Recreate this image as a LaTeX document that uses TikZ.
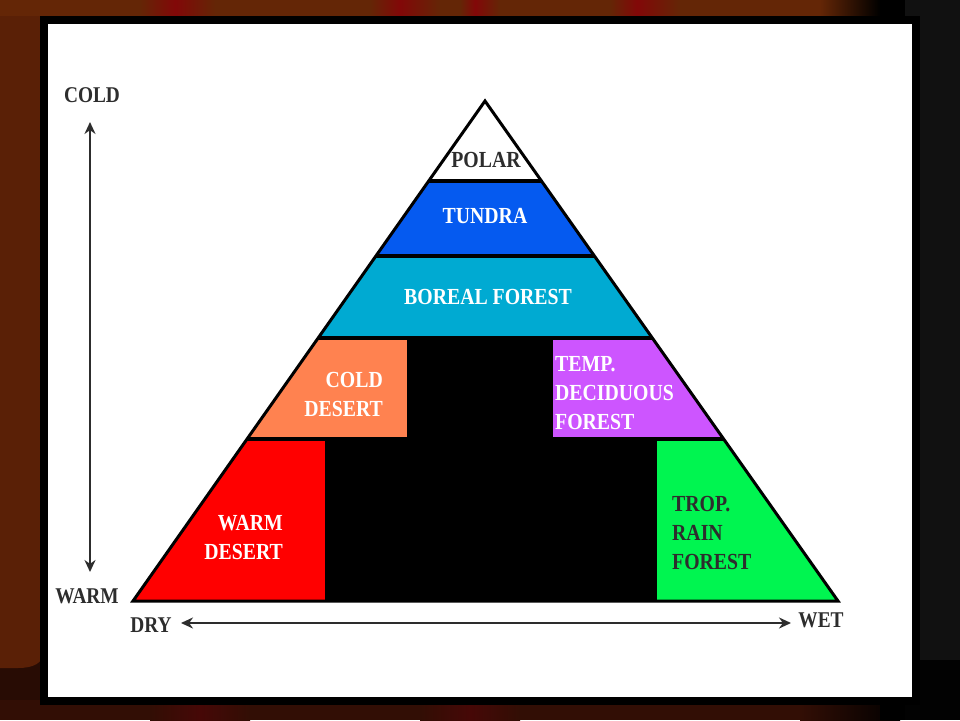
\documentclass[tikz,border=0pt]{standalone}
\usepackage{fontspec}
\setmainfont{Liberation Serif}[FakeStretch=0.86]
\usetikzlibrary{arrows.meta}
\definecolor{tundrablue}{RGB}{5,90,240}
\definecolor{borealcyan}{RGB}{0,170,210}
\definecolor{colddes}{RGB}{255,130,80}
\definecolor{tempdec}{RGB}{205,85,255}
\definecolor{warmdes}{RGB}{255,0,0}
\definecolor{tropgreen}{RGB}{0,245,80}
\definecolor{labelgray}{RGB}{45,45,45}
\definecolor{bgdark}{RGB}{40,12,4}
\definecolor{curtbrown}{RGB}{90,32,6}
\definecolor{topbrown}{RGB}{100,38,6}
\definecolor{curtred}{RGB}{130,8,8}
\definecolor{botbrown}{RGB}{50,14,5}
\definecolor{botred}{RGB}{70,8,6}
\definecolor{rightgray}{RGB}{17,17,17}
\begin{document}
\begin{tikzpicture}[x=1pt,y=-1pt,
  biome/.style={font=\fontsize{23}{29}\selectfont\bfseries, inner sep=0pt, text=white},
  darkbiome/.style={biome, text=labelgray},
  axislabel/.style={font=\fontsize{22.5}{26}\selectfont\bfseries, inner sep=0pt, text=labelgray},
  axisarrow/.style={draw=labelgray, line width=2.9pt,
    {Stealth[length=12pt,width=11pt]}-{Stealth[length=12pt,width=11pt]}}]
\useasboundingbox (0,0) rectangle (960,720);
% curtain background
\fill[bgdark] (0,0) rectangle (960,720);
\fill[curtbrown] (0,0) -- (44,0) -- (44,650) .. controls (44,664) and (32,668) .. (18,668) -- (0,668) -- cycle;
\fill[topbrown] (0,0) rectangle (880,16);
\shade[left color=topbrown, right color=curtred] (140,0) rectangle (175,16);
\shade[left color=curtred, right color=topbrown] (175,0) rectangle (215,16);
\shade[left color=topbrown, right color=curtred] (370,0) rectangle (400,16);
\shade[left color=curtred, right color=topbrown] (400,0) rectangle (440,16);
\shade[left color=topbrown, right color=curtred] (460,0) rectangle (475,16);
\shade[left color=curtred, right color=topbrown] (475,0) rectangle (500,16);
\shade[left color=topbrown, right color=curtred] (610,0) rectangle (637,16);
\shade[left color=curtred, right color=topbrown] (637,0) rectangle (680,16);
\shade[left color=topbrown, right color=black] (820,0) rectangle (880,16);
\fill[botbrown] (0,700) rectangle (900,720);
\shade[left color=botbrown, right color=botred] (150,700) rectangle (200,720);
\shade[left color=botred, right color=botbrown] (200,700) rectangle (250,720);
\shade[left color=botbrown, right color=botred] (420,700) rectangle (470,720);
\shade[left color=botred, right color=botbrown] (470,700) rectangle (520,720);
\shade[left color=botbrown, right color=black] (800,700) rectangle (900,720);
\fill[black] (880,0) rectangle (905,720);
\fill[rightgray] (905,0) rectangle (960,660);
\fill[black!90!rightgray] (905,660) rectangle (960,720);
% frame
\fill[black] (40,16) rectangle (920,705);
\fill[white] (48,24) rectangle (912,697);
% triangle
\coordinate (apex) at (485,101);
\coordinate (bl) at (133,601);
\coordinate (br) at (838,601);
\fill[black] (apex) -- (bl) -- (br) -- cycle;
\begin{scope}
  \clip (apex) -- (bl) -- (br) -- cycle;
  \fill[white] (100,90) rectangle (900,179);
  \fill[tundrablue] (100,183) rectangle (900,254);
  \fill[borealcyan] (100,258) rectangle (900,336);
  \fill[colddes] (100,340) rectangle (407,437);
  \fill[tempdec] (553,340) rectangle (900,437);
  \fill[warmdes] (100,441) rectangle (325,601);
  \fill[tropgreen] (657,441) rectangle (900,601);
\end{scope}
\draw[line width=3pt, line join=miter] (apex) -- (bl) -- (br) -- cycle;
% biome labels
\node[darkbiome] (polar) at (486,160) {POLAR};
\node[biome] (tundra) at (485,216) {TUNDRA};
\node[biome] (boreal) at (488,297) {BOREAL FOREST};
\node[biome, anchor=east, align=right] (colddesert) at (383,394) {COLD\\DESERT};
\node[biome, anchor=west, align=left] (temperate) at (555,393) {TEMP.\\DECIDUOUS\\FOREST};
\node[biome, anchor=east, align=right] (warmdesert) at (283,538) {WARM\\DESERT};
\node[darkbiome, anchor=west, align=left] (tropical) at (672,533) {TROP.\\RAIN\\FOREST};
% axes
\node[axislabel] (cold) at (92,95) {COLD};
\node[axislabel] (warm) at (87,596) {WARM};
\node[axislabel] (dry) at (151,625) {DRY};
\node[axislabel] (wet) at (821,620) {WET};
\coordinate (ctop) at (90,122);
\coordinate (cbot) at (90,572);
\coordinate (dleft) at (181,623);
\coordinate (dright) at (791,623);
\draw[axisarrow] (ctop) -- (cbot);
\draw[axisarrow] (dleft) -- (dright);
\end{tikzpicture}
\end{document}
